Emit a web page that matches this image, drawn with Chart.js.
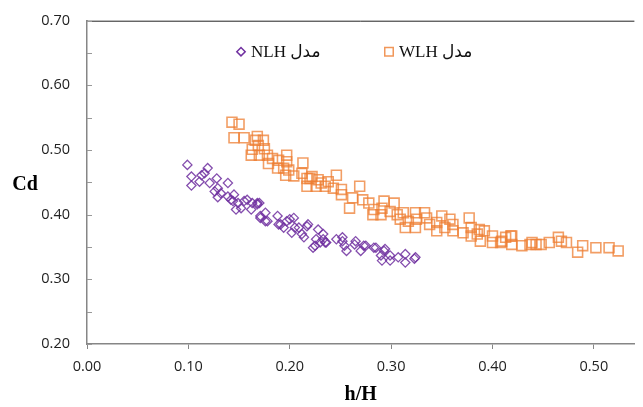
<!DOCTYPE html>
<html>
<head>
<meta charset="utf-8">
<script src="https://cdn.jsdelivr.net/npm/chart.js@4"></script>
<style>
  html, body { margin: 0; padding: 0; background: #fff; }
  #wrap { width: 643px; height: 407px; }
</style>
</head>
<body>
<div id="wrap"><canvas id="c" width="643" height="407"></canvas></div>
<script>
// NLH model (purple diamonds)
const nlhX = [0.099, 0.119, 0.103, 0.103, 0.113, 0.111, 0.116, 0.121, 0.128, 0.129,
  0.126, 0.139, 0.132, 0.139, 0.145, 0.144, 0.149, 0.158, 0.163, 0.170,
  0.129, 0.142, 0.147, 0.155, 0.162, 0.168, 0.171, 0.176, 0.178, 0.188,
  0.189, 0.194, 0.197, 0.202, 0.204, 0.209, 0.214, 0.218, 0.223, 0.228,
  0.230, 0.233, 0.217, 0.225, 0.233, 0.235, 0.252, 0.254, 0.265, 0.270,
  0.273, 0.283, 0.290, 0.294, 0.299, 0.314, 0.324, 0.152, 0.168, 0.171,
  0.176, 0.191, 0.200, 0.205, 0.212, 0.226, 0.236, 0.246, 0.252, 0.256,
  0.264, 0.275, 0.285, 0.291, 0.293, 0.299, 0.307, 0.314, 0.323];
const nlhY = [0.477, 0.472, 0.459, 0.445, 0.461, 0.451, 0.464, 0.449, 0.456, 0.441,
  0.436, 0.449, 0.433, 0.428, 0.431, 0.421, 0.418, 0.423, 0.418, 0.418,
  0.427, 0.423, 0.408, 0.421, 0.408, 0.418, 0.395, 0.403, 0.390, 0.398,
  0.385, 0.380, 0.390, 0.372, 0.395, 0.380, 0.365, 0.385, 0.349, 0.377,
  0.357, 0.362, 0.382, 0.352, 0.370, 0.357, 0.365, 0.352, 0.359, 0.344,
  0.352, 0.349, 0.337, 0.347, 0.337, 0.339, 0.334, 0.410, 0.416, 0.398,
  0.390, 0.385, 0.393, 0.380, 0.370, 0.362, 0.357, 0.362, 0.359, 0.344,
  0.354, 0.352, 0.349, 0.329, 0.344, 0.329, 0.334, 0.326, 0.332];

// WLH model (orange squares)
const wlhX = [0.143, 0.150, 0.145, 0.155, 0.168, 0.166, 0.174, 0.163, 0.169, 0.175,
  0.162, 0.170, 0.178, 0.179, 0.183, 0.189, 0.197, 0.197, 0.188, 0.194,
  0.199, 0.196, 0.204, 0.213, 0.217, 0.222, 0.231, 0.238, 0.217, 0.243,
  0.226, 0.212, 0.220, 0.228, 0.246, 0.235, 0.251, 0.251, 0.269, 0.262,
  0.272, 0.278, 0.259, 0.283, 0.293, 0.291, 0.303, 0.299, 0.282, 0.290,
  0.306, 0.312, 0.309, 0.317, 0.324, 0.325, 0.314, 0.324, 0.333, 0.335,
  0.338, 0.345, 0.345, 0.350, 0.358, 0.353, 0.361, 0.361, 0.377, 0.371,
  0.379, 0.379, 0.387, 0.388, 0.400, 0.400, 0.409, 0.413, 0.419, 0.419,
  0.429, 0.439, 0.443, 0.385, 0.392, 0.408, 0.418, 0.437, 0.448, 0.456,
  0.468, 0.465, 0.473, 0.484, 0.489, 0.502, 0.515, 0.524];
const wlhY = [0.543, 0.540, 0.519, 0.519, 0.521, 0.515, 0.515, 0.501, 0.507, 0.502,
  0.492, 0.492, 0.492, 0.479, 0.487, 0.484, 0.492, 0.482, 0.472, 0.472,
  0.469, 0.461, 0.460, 0.480, 0.456, 0.459, 0.449, 0.451, 0.444, 0.441,
  0.444, 0.464, 0.456, 0.454, 0.461, 0.444, 0.439, 0.431, 0.444, 0.426,
  0.423, 0.418, 0.410, 0.408, 0.421, 0.410, 0.418, 0.405, 0.400, 0.400,
  0.400, 0.403, 0.393, 0.390, 0.403, 0.393, 0.380, 0.380, 0.403, 0.395,
  0.385, 0.388, 0.375, 0.398, 0.393, 0.380, 0.385, 0.375, 0.395, 0.372,
  0.367, 0.380, 0.377, 0.359, 0.367, 0.357, 0.359, 0.365, 0.354, 0.367,
  0.352, 0.357, 0.354, 0.370, 0.375, 0.357, 0.367, 0.354, 0.354, 0.357,
  0.359, 0.365, 0.357, 0.342, 0.352, 0.349, 0.349, 0.344];

const nlhLabel = 'مدل NLH';
const wlhLabel = 'مدل WLH';

const toPts = (xs, ys) => xs.map((x, i) => ({ x: x, y: ys[i] }));

// legend inside the plot, top frame line, inward y ticks and the horizontal "Cd" title
const extras = {
  id: 'extras',
  afterDraw(chart) {
    const ctx = chart.ctx, a = chart.chartArea;
    const ys = chart.scales.y;
    ctx.save();
    ctx.strokeStyle = '#222';
    ctx.lineWidth = 1;
    ctx.beginPath();
    ctx.moveTo(a.left, a.top + 0.5);
    ctx.lineTo(a.right, a.top + 0.5);
    ctx.stroke();

    // y tick marks point into the plot
    ctx.strokeStyle = '#999';
    ctx.lineWidth = 1;
    ys.ticks.forEach(t => {
      const py = Math.round(ys.getPixelForValue(t.value)) + 0.5;
      ctx.beginPath();
      ctx.moveTo(a.left, py);
      ctx.lineTo(a.left + 5, py);
      ctx.stroke();
    });

    ctx.fillStyle = '#000';
    ctx.font = 'bold 20px "Liberation Serif"';
    ctx.textAlign = 'center';
    ctx.textBaseline = 'middle';
    ctx.fillText('Cd', 25, (a.top + a.bottom) / 2 + 2);

    const ly = a.top + 31;
    const lx = [a.left + 154, a.left + 302];
    chart.data.datasets.forEach((ds, i) => {
      ctx.strokeStyle = ds.legendColor;
      ctx.fillStyle = 'rgba(0,0,0,0)';
      ctx.lineWidth = 1.5;
      Chart.helpers.drawPoint(ctx, { pointStyle: ds.pointStyle, radius: ds.legendRadius, borderWidth: 1.5, rotation: 0 }, lx[i], ly);
      ctx.fillStyle = '#111';
      ctx.font = '17px "Liberation Serif", "DejaVu Sans"';
      ctx.direction = 'rtl';
      ctx.textAlign = 'left';
      ctx.textBaseline = 'middle';
      ctx.fillText(ds.label, lx[i] + 10, ly + 1);
    });
    ctx.restore();
  }
};

const ctx = document.getElementById('c').getContext('2d');
const myChart = new Chart(ctx, {
  type: 'scatter',
  data: {
    datasets: [{
      label: nlhLabel,
      data: toPts(nlhX, nlhY),
      pointStyle: 'rectRot',
      pointRadius: 4.6,
      legendRadius: 4.2,
      legendColor: '#7030A0',
      borderColor: 'rgba(112, 48, 160, 0.85)',
      backgroundColor: 'rgba(0,0,0,0)',
      borderWidth: 1.3
    }, {
      label: wlhLabel,
      data: toPts(wlhX, wlhY),
      pointStyle: 'rect',
      pointRadius: 7,
      legendRadius: 6,
      legendColor: 'rgba(237, 125, 49, 0.8)',
      borderColor: 'rgba(237, 125, 49, 0.75)',
      backgroundColor: 'rgba(0,0,0,0)',
      borderWidth: 1.6
    }]
  },
  options: {
    animation: false,
    responsive: false,
    layout: { padding: { top: 17, right: 0, bottom: 0, left: 0 } },
    plugins: {
      legend: { display: false },
      tooltip: { enabled: false }
    },
    scales: {
      x: {
        type: 'linear',
        min: 0,
        max: 0.54,
        afterFit: (s) => { s.height = 63; },
        border: { color: '#868686', width: 1.5 },
        grid: { drawOnChartArea: false, tickLength: 5, color: '#868686' },
        ticks: {
          stepSize: 0.1,
          includeBounds: false,
          padding: 9,
          color: '#222',
          font: { family: 'Open Sans', size: 14.5 },
          callback: (v) => v.toFixed(2)
        },
        title: {
          display: true,
          text: 'h/H',
          color: '#000',
          padding: { top: 0, bottom: 0 },
          font: { family: 'Liberation Serif', size: 20, weight: 'bold' }
        }
      },
      y: {
        min: 0.2,
        max: 0.7,
        afterFit: (s) => { s.width = 87; },
        border: { color: '#868686', width: 1.5 },
        grid: { drawOnChartArea: false, tickLength: 5, color: 'rgba(0,0,0,0)' },
        ticks: {
          stepSize: 0.05,
          padding: 12,
          color: '#222',
          font: { family: 'Open Sans', size: 14.5 },
          callback: (v) => (Math.round(v * 100) % 10 === 0 ? v.toFixed(2) : '')
        }
      }
    }
  },
  plugins: [extras]
});
</script>
</body>
</html>
